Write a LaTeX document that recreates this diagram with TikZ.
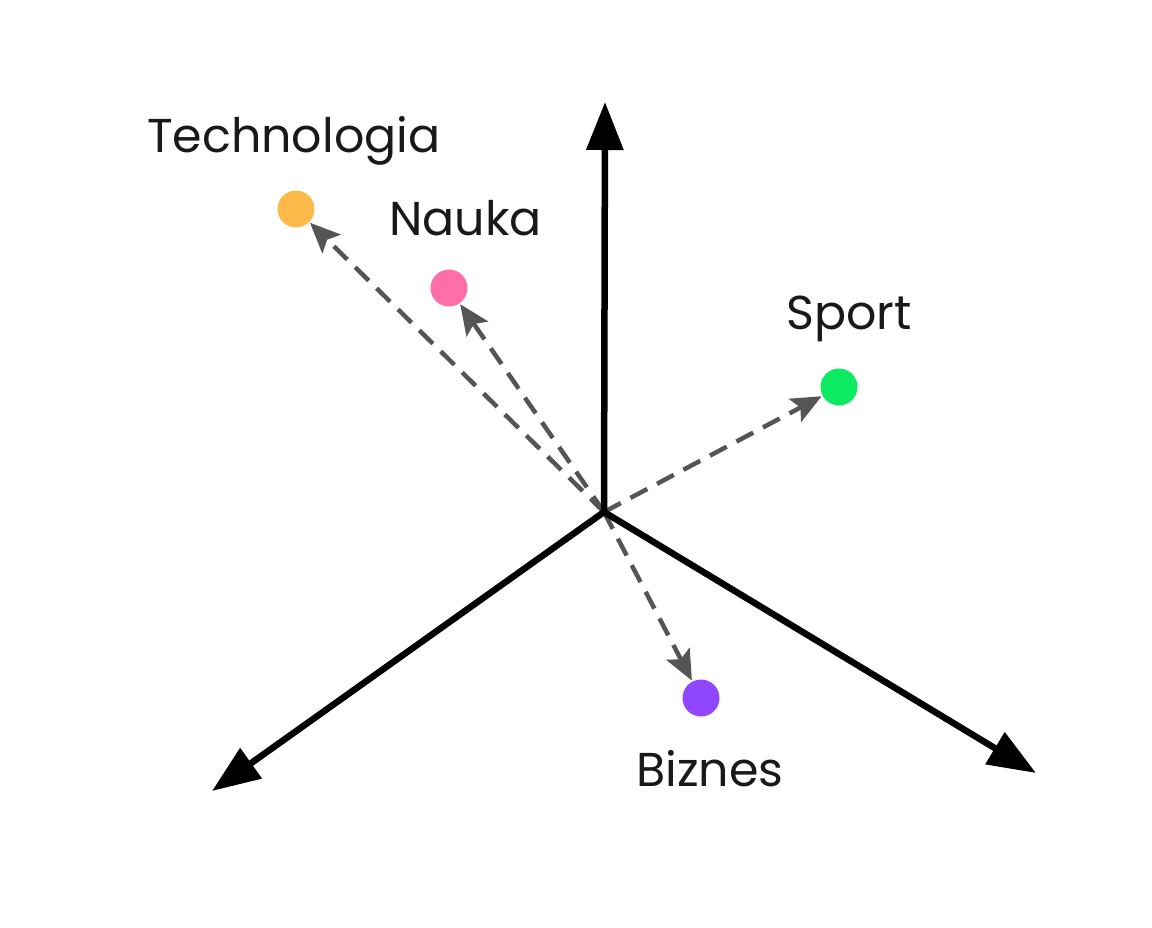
\documentclass[tikz,border=0pt]{standalone}
\usepackage{fontspec}
\setmainfont{Poppins}
\usetikzlibrary{arrows.meta}
\definecolor{corange}{HTML}{FDB94A}
\definecolor{cpink}{HTML}{FF6EA7}
\definecolor{cgreen}{HTML}{0BEA60}
\definecolor{cpurple}{HTML}{9147FF}
\definecolor{cgray}{HTML}{555555}
\tikzset{
  axisline/.style={line width=6.5pt, -{Triangle[length=48pt,width=36pt]}},
  vecline/.style={cgray, line width=4.5pt, dash pattern=on 19pt off 11pt, -{Stealth[length=30pt,width=26pt,inset=6pt]}, shorten >=1pt},
  dot/.style={circle, inner sep=0pt, minimum size=37pt, draw=none},
  lbl/.style={anchor=base west, inner sep=0pt, font=\fontsize{47.5}{55}\selectfont, text=black!90}
}
\begin{document}
\begin{tikzpicture}[x=1pt,y=-1pt]
\useasboundingbox[fill=white] (0,0) rectangle (1152,928);
\coordinate (O) at (604,512);
\coordinate (up) at (605,102);
\coordinate (left) at (212,791);
\coordinate (right) at (1036,773);
\node[dot, fill=corange] (tech) at (296,209) {};
\node[dot, fill=cpink] (nauka) at (449,288) {};
\node[dot, fill=cgreen] (sport) at (839,387) {};
\node[dot, fill=cpurple] (biz) at (701,698) {};
\draw[vecline] (O) -- (tech);
\draw[vecline] (O) -- (nauka);
\draw[vecline] (O) -- (sport);
\draw[vecline] (O) -- (biz);
\draw[axisline] (O) -- (up);
\draw[axisline] (O) -- (left);
\draw[axisline] (O) -- (right);
\node[lbl] (ltech) at (147,153) {Technologia};
\node[lbl] (lnauka) at (389,236) {Nauka};
\node[lbl] (lsport) at (786,330) {Sport};
\node[lbl] (lbiz) at (636,786) {Biznes};
\end{tikzpicture}
\end{document}
